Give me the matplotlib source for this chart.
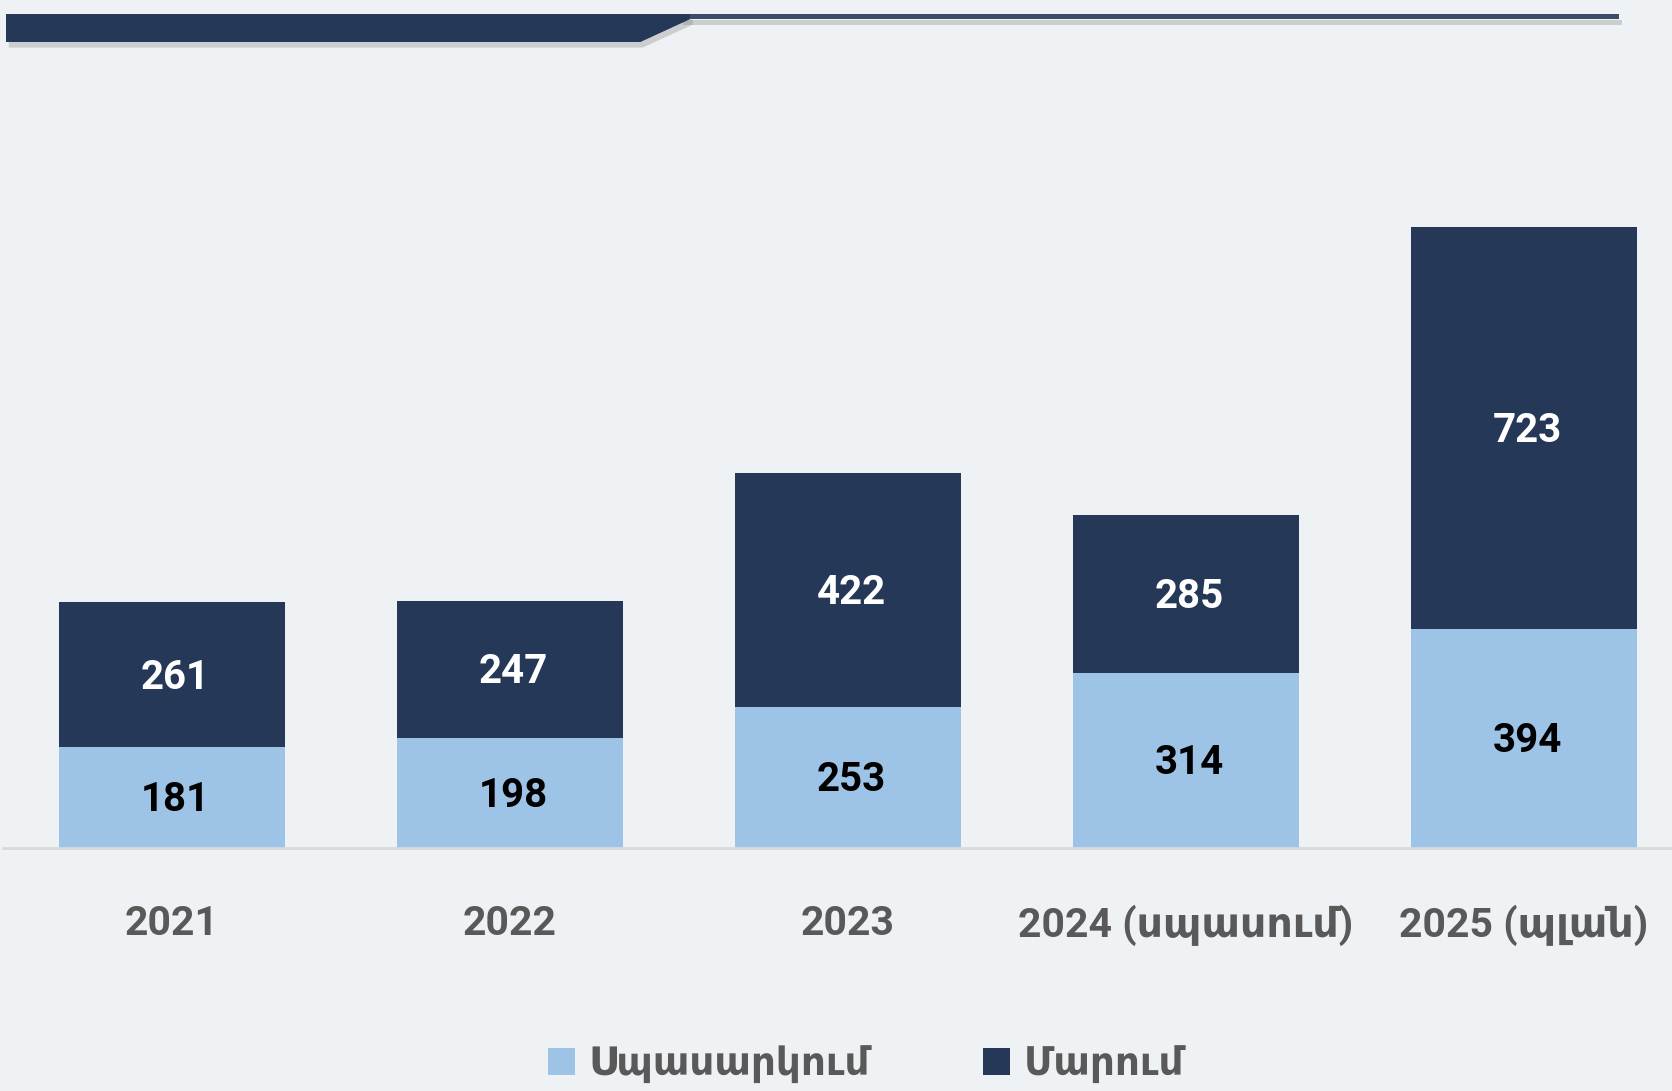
import matplotlib
matplotlib.use("Agg")
import matplotlib.pyplot as plt
from matplotlib.patches import Polygon
import matplotlib.patheffects as pe

categories = ["2021", "2022", "2023", "2024 (սպասում)", "2025 (պլան)"]
service = [181, 198, 253, 314, 394]
maintenance = [261, 247, 422, 285, 723]
series_names = ["Սպասարկում", "Մարում"]

BG = "#EFF2F5"
LIGHT = "#9DC3E6"
DARK = "#253858"
GRAY = "#595959"
FAM = ["Roboto", "DejaVu Sans"]

W, H = 1672, 1091
fig = plt.figure(figsize=(W / 100, H / 100), dpi=100)
fig.patch.set_facecolor(BG)

base_y = 848
left_px = 3
ax = fig.add_axes([left_px / W, (H - base_y) / H, (W - left_px) / W, base_y / H])
ax.set_facecolor(BG)
spacing = 338
ax.set_xlim(-0.5, -0.5 + (W - left_px) / spacing)
ax.set_ylim(0, 1117 * base_y / 621)

x = list(range(len(categories)))
b1 = ax.bar(x, service, width=0.666, color=LIGHT, label=series_names[0], zorder=2)
b2 = ax.bar(x, maintenance, width=0.666, bottom=service, color=DARK, label=series_names[1], zorder=2)

for i in x:
    ax.text(i + 0.01, service[i] / 2 - 5, str(service[i]), ha="center", va="center",
            fontsize=29, fontweight="bold", color="black", family=FAM)
    ax.text(i + 0.01, service[i] + maintenance[i] / 2 - 5, str(maintenance[i]), ha="center", va="center",
            fontsize=29, fontweight="bold", color="white", family=FAM)

for s in ["top", "right", "left"]:
    ax.spines[s].set_visible(False)
ax.spines["bottom"].set_color("#D9D9D9")
ax.spines["bottom"].set_linewidth(2)
ax.set_yticks([])
ax.set_xticks(x)
ax.set_xticklabels(categories, fontsize=29.5, fontweight="bold", color=GRAY, family=FAM)
ax.tick_params(axis="x", length=0, pad=41)

leg = fig.legend(handles=[b1, b2], labels=series_names, loc="center",
                 bbox_to_anchor=(866 / W, (H - 1064) / H), ncol=2, frameon=False,
                 prop={"family": FAM, "size": 28, "weight": "bold"},
                 handlelength=0.7, handleheight=0.7, handletextpad=0.35, columnspacing=2.9,
                 labelcolor=GRAY)

def px(xp, yp):
    return (xp / W, 1 - yp / H)

shadow = pe.withSimplePatchShadow(offset=(2, -4), shadow_rgbFace="#888888", alpha=0.35)
line = Polygon([px(680, 14), px(1619, 14), px(1619, 19), px(680, 19)], closed=True,
               transform=fig.transFigure, facecolor="#3A4D66", edgecolor="none",
               path_effects=[shadow, pe.Normal()])
fig.patches.append(line)
band = Polygon([px(6, 14), px(690, 14), px(690, 19), px(640, 42), px(6, 42)], closed=True,
               transform=fig.transFigure, facecolor=DARK, edgecolor="none",
               path_effects=[shadow, pe.Normal()])
fig.patches.append(band)

fig.savefig("out.png", dpi=100, facecolor=BG)
